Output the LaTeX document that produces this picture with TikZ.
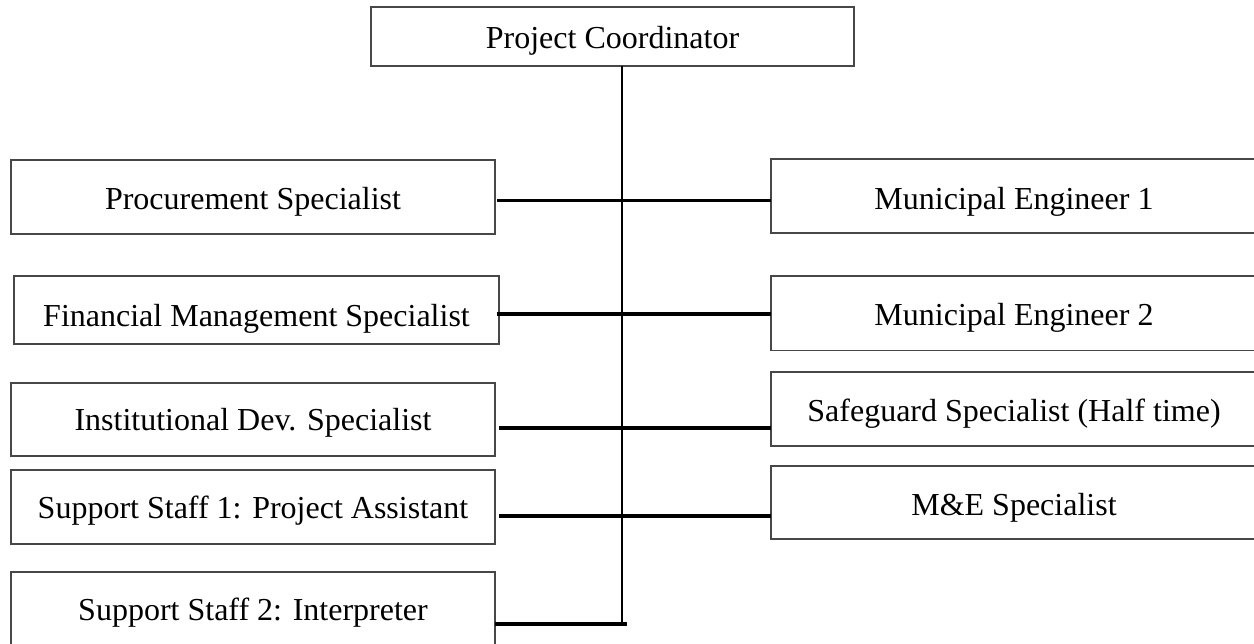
\documentclass[tikz,border=0pt]{standalone}
\usepackage{fontspec}
\setmainfont{Liberation Serif}
\begin{document}
\begin{tikzpicture}[x=1pt,y=-1pt,
  box/.style={draw=black!72, line width=1.6pt, rectangle, inner sep=0pt, outer sep=0pt,
    text height=25pt, text depth=0pt,
    font=\fontsize{32}{38}\selectfont},
  hline/.style={draw=black, line width=3.2pt},
  vline/.style={draw=black, line width=2pt}]
\useasboundingbox (0,0) rectangle (1254,644);
\clip (0,0) rectangle (1254,644);
% top
\node[box, minimum width=483pt, minimum height=59pt, text height=25pt] (pc) at (612.5,36.5) {Project Coordinator};
% left column
\node[box, minimum width=484pt, minimum height=74pt, text height=26pt] (proc) at (253,197) {Procurement Specialist};
\node[box, minimum width=485pt, minimum height=68pt, text height=34pt] (fin) at (256.5,310) {Financial Management Specialist};
\node[box, minimum width=484pt, minimum height=73pt, text height=23pt] (inst) at (253,419.5) {Institutional Dev. Specialist};
\node[box, minimum width=484pt, minimum height=74pt, text height=22pt] (ss1) at (253,507) {Support Staff 1: Project Assistant};
\node[box, minimum width=484pt, minimum height=78pt, text height=18pt] (ss2) at (253,611) {Support Staff 2: Interpreter};
% right column
\node[box, minimum width=486pt, minimum height=74pt, text height=28pt] (me1) at (1014,196) {Municipal Engineer 1};
\node[box, minimum width=486pt, minimum height=74.5pt, text height=25.5pt] (me2) at (1014,313.25) {Municipal Engineer 2};
\node[box, minimum width=486pt, minimum height=74pt, text height=26pt] (safe) at (1014,409) {Safeguard Specialist (Half time)};
\node[box, minimum width=486pt, minimum height=73pt, text height=25pt] (mne) at (1014,502.5) {M\&E Specialist};
% connectors
\coordinate (bot) at (622,625);
\draw[vline] (pc.south -| bot) -- (bot);
\draw[hline] ([xshift=2pt]proc.east |- 0,200.7) -- (me1.west |- 0,200.7);
\draw[hline] ([xshift=-2pt]fin.east |- 0,314) -- (me2.west |- 0,314);
\draw[hline] ([xshift=4pt]inst.east |- 0,428) -- (safe.west |- 0,428);
\draw[hline] ([xshift=4pt]ss1.east |- 0,516) -- (mne.west |- 0,516);
\draw[hline] (ss2.east |- 0,624) -- ([xshift=5pt]bot |- 0,624);
\end{tikzpicture}
\end{document}
